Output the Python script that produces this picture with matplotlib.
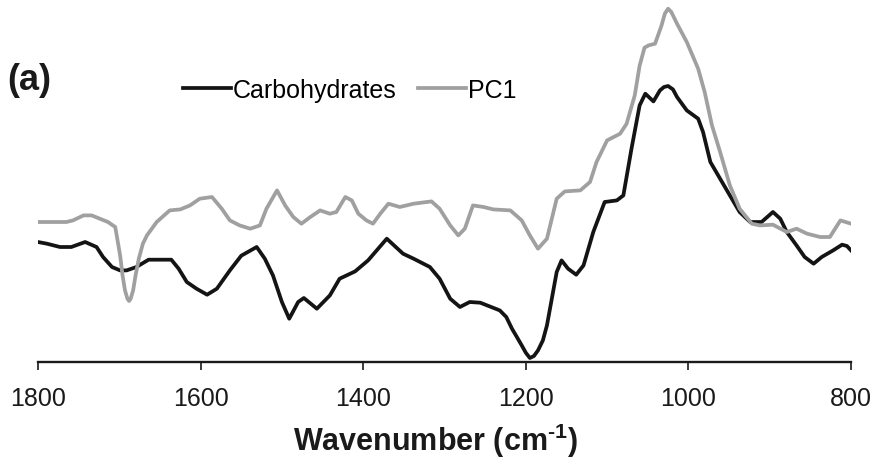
import matplotlib
matplotlib.use("Agg")
import matplotlib.pyplot as plt
from matplotlib.lines import Line2D

plt.rcParams['font.family'] = ['Liberation Sans', 'DejaVu Sans']
plt.rcParams['mathtext.fontset'] = 'custom'
plt.rcParams['mathtext.rm'] = 'Liberation Sans:bold'
plt.rcParams['mathtext.bf'] = 'Liberation Sans:bold'

# carbohydrate loading spectrum (arbitrary units)
carb_wn = [1800, 1789, 1773, 1759, 1742, 1728, 1720, 1709, 1699, 1691, 1679, 1664,
           1636, 1627, 1617, 1605, 1592, 1580, 1564, 1550, 1531, 1521, 1511, 1500,
           1491, 1480, 1473, 1457, 1441, 1429, 1410, 1394, 1371, 1351, 1338, 1318,
           1306, 1293, 1281, 1269, 1256, 1232, 1224, 1217, 1211, 1205, 1200, 1195,
           1190, 1185, 1179, 1174, 1168, 1162,
           1156, 1148, 1138, 1129, 1117, 1103, 1088, 1080, 1070, 1060, 1053, 1043,
           1035, 1030, 1025, 1019, 1014, 1002, 988, 982, 973, 961, 949, 937, 924, 910,
           896, 887, 879, 867, 857, 846, 836, 822, 811, 805, 800]
carb = [119.7, 118, 114.7, 114.7, 119.7, 114.7, 104.7, 94.7, 91.3, 91.3, 94.7, 102,
        102, 93, 79.7, 73, 67, 73, 91.3, 106, 114.7, 103, 86.3, 59.7,
        43, 59.7, 63.7, 53, 66.3, 83, 90.3, 101.3, 123, 108, 103, 94.7,
        83, 63, 54.7, 59.7, 59, 51.3, 44.7, 33, 24.7, 16.3, 9, 3.7,
        5.7, 11.3, 21.3, 36.3, 63, 89.7,
        101.3, 93, 87, 96.3, 129.7, 159.7, 161.3, 166.3, 213, 256.3, 268, 260.3,
        271.3, 274.7, 275.7, 272.3, 264.7, 251.3, 243, 229.7, 199.7, 183, 166.3, 149.7, 139.7, 139.7,
        149.7, 143, 129.7, 116.3, 104.7, 98, 104.7, 111.3, 117, 115.7, 111.3]

# first principal component loading
pc1_wn = [1800, 1765, 1757, 1744, 1734, 1724, 1714, 1705, 1702.5, 1699, 1696, 1693,
          1690, 1688, 1686, 1683, 1680, 1676, 1671, 1666,
          1654, 1638, 1625, 1613, 1601, 1586, 1574, 1564, 1552, 1539,
          1527, 1519, 1506, 1496, 1486, 1476, 1465, 1453, 1441, 1433, 1422, 1414,
          1406, 1396, 1388, 1379, 1369, 1355, 1338, 1316, 1306, 1293, 1283, 1275,
          1265, 1252, 1240, 1219, 1205, 1195, 1185, 1174, 1162, 1152, 1133, 1121,
          1113, 1100, 1084, 1076, 1066, 1060, 1054, 1049, 1041, 1033, 1029, 1025,
          1021, 1014, 1002, 988, 980, 971, 961, 949, 937, 922, 912, 896, 879, 867,
          854, 838, 826, 813, 800]
pc1 = [139.7, 139.7, 141.3, 146.3, 146.3, 143, 139.7, 134.7, 123, 106.3, 86.3, 71.3,
       63, 60.7, 63, 71.3, 86.3, 103, 118, 126.3,
       139.7, 151.3, 152.3, 156.3, 163, 164.7, 153, 141.3, 136.3, 133,
       136.3, 153, 171.3, 156.3, 144.7, 138, 144.7, 151.3, 148, 149.7, 164.7, 161.3,
       148, 141.3, 138, 148, 158, 154.7, 158, 160.3, 153, 136.3, 126.3, 133,
       156.3, 154.7, 152.3, 151.3, 141.3, 126.3, 113, 123, 163, 170.3, 171.3, 179.7,
       199.7, 221.3, 228, 238, 266.3, 296, 314, 316.3, 318, 336.3, 348, 353,
       349.7, 338, 319.7, 293, 269.7, 236.3, 209.7, 176.3, 153, 138, 136.3, 137, 129.7, 133,
       128, 124.7, 124.7, 141.3, 138]

xticks = [1800, 1600, 1400, 1200, 1000, 800]

W, H = 881, 464
fig = plt.figure(figsize=(W / 100, H / 100), dpi=100)
ax = fig.add_axes([38 / W, 1 - 362.7 / H, (851 - 38) / W, 362.7 / H])

ax.plot(carb_wn, carb, color='#141414', lw=2.7, solid_joinstyle='round')
ax.plot(pc1_wn, pc1, color='#a0a0a0', lw=2.7, solid_joinstyle='round')

ax.set_xlim(1800, 800)
ax.set_ylim(0, 362.7)
ax.set_xticks(xticks)
ax.tick_params(axis='x', direction='out', length=5.5, width=1.2, pad=12,
               labelsize=18, colors='#1a1a1a')
ax.set_yticks([])
for s in ('left', 'right', 'top'):
    ax.spines[s].set_visible(False)
ax.spines['bottom'].set_linewidth(1.7)
ax.spines['bottom'].set_color('#1a1a1a')
ax.patch.set_alpha(0)

fig.text(435 / W, 1 - 451 / H, r'Wavenumber (cm$^{\text{-1}}$)', ha='center',
         va='baseline', fontsize=22, fontweight='bold', color='#1a1a1a')
fig.text(7 / W, 1 - 81 / H, '(a)', ha='left', va='center', fontsize=26,
         fontweight='bold', color='#1a1a1a')

handles = [Line2D([], [], color='#141414', lw=2.7),
           Line2D([], [], color='#a0a0a0', lw=2.7)]
fig.legend(handles, ['Carbohydrates', 'PC1'], ncol=2, frameon=False,
           loc='center left', bbox_to_anchor=(183 / W, 1 - 91 / H),
           borderpad=0, borderaxespad=0, handlelength=1.9, handletextpad=0.1,
           columnspacing=0.85, fontsize=18)

fig.savefig('out.png', dpi=100)
